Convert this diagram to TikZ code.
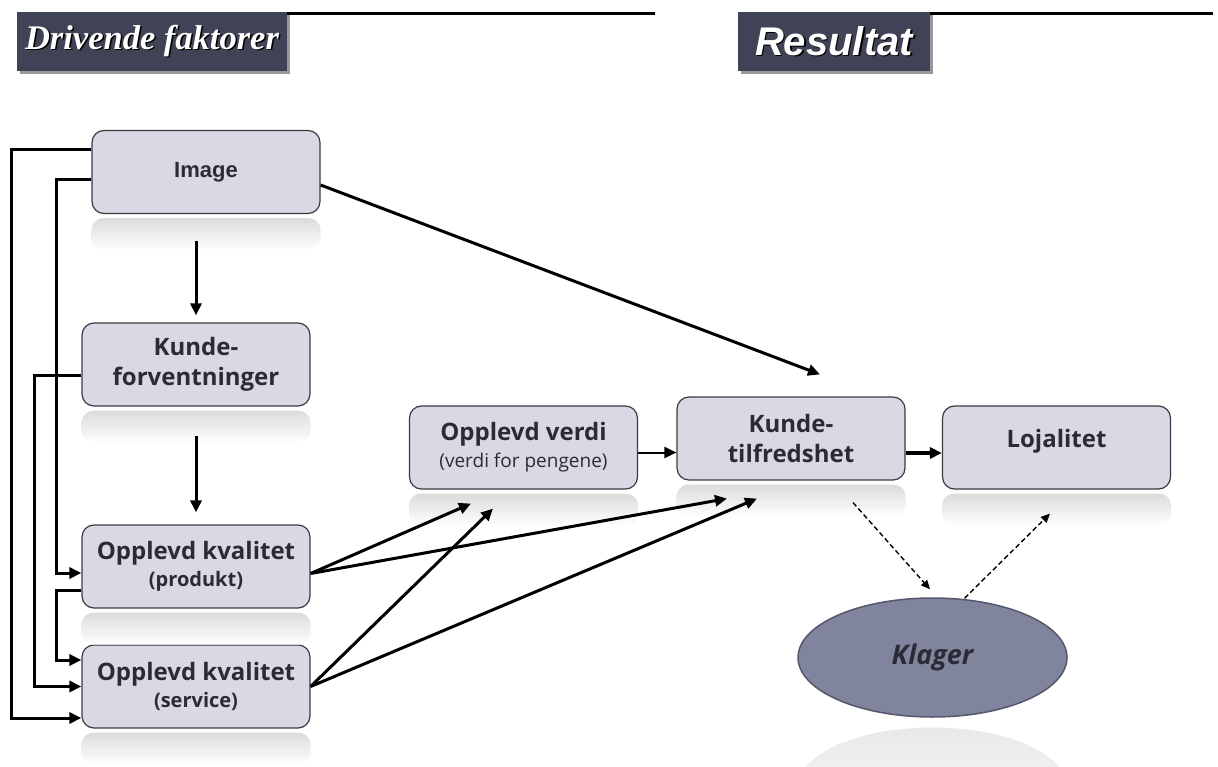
\documentclass[tikz,border=0pt]{standalone}
\usepackage{fontspec}
\setmainfont{Open Sans}
\newfontfamily\titleserif{Liberation Serif}
\newfontfamily\arialfont{Liberation Sans}
\usetikzlibrary{shapes.geometric,arrows.meta,shadows}
\definecolor{boxfill}{HTML}{D9D9E3}
\definecolor{boxline}{HTML}{3A3A44}
\definecolor{boxtext}{HTML}{2B2B36}
\definecolor{titlefill}{HTML}{404256}
\definecolor{ovalfill}{HTML}{80849C}
\definecolor{ovalline}{HTML}{55586C}
\newcommand{\shadowtext}[1]{\rlap{\kern1.5pt\raisebox{-1.5pt}{\color{black}#1}}{\color{white}#1}}
\newcommand{\mirror}[1]{\shade[top color=black!14,bottom color=white,rounded corners=12pt]
  ([yshift=-4pt]#1.south west) rectangle ([yshift=-36pt]#1.south east);}

\begin{document}
\begin{tikzpicture}[x=1pt,y=-1pt]
  \tikzstyle{box}=[rectangle,rounded corners=12pt,draw=boxline,line width=1.2pt,fill=boxfill,
    minimum width=228pt,minimum height=83pt,align=center,text=boxtext,
    font=\fontsize{24}{30}\selectfont\bfseries]
  \tikzstyle{titlebox}=[rectangle,fill=titlefill,minimum height=59pt,
    drop shadow={shadow xshift=3pt,shadow yshift=-3pt,fill=black!40,opacity=1},
    font=\bfseries\itshape]
  \tikzstyle{arr}=[line width=3pt,-{Triangle[length=12pt,width=11pt]}]
  \tikzstyle{dasharr}=[line width=1.4pt,dash pattern=on 5pt off 3pt,-{Triangle[length=9pt,width=8pt]}]
  \useasboundingbox (0,0) rectangle (1218,767);

  % headings
  \node[titlebox,minimum width=270pt] (drivende) at (152,41.5)
    {\titleserif\fontsize{34.5}{40}\selectfont\shadowtext{Drivende faktorer}};
  \node[titlebox,minimum width=192pt] (resultat) at (834,41.5)
    {\arialfont\fontsize{40}{44}\selectfont\shadowtext{Resultat}};
  \draw[line width=3pt] ([yshift=-1.5pt]drivende.north east) -- ++(368,0);
  \draw[line width=3pt] ([yshift=-1.5pt]resultat.north east) -- ++(283,0);

  % boxes
  \node[box] (image) at (206,172) {\arialfont\fontsize{22}{26}\selectfont Image};
  \node[box] (kunde) at (196,364.5) {Kunde-\\forventninger};
  \node[box] (okp) at (196,566.5) {Opplevd kvalitet\\[-3pt]{\fontsize{20}{24}\selectfont (produkt)}};
  \node[box] (oks) at (196,686.5) {Opplevd kvalitet\\[-3pt]{\fontsize{20}{24}\selectfont (service)}};
  \node[box] (verdi) at (523.5,447.5) {Opplevd verdi\\[-3pt]{\fontsize{19}{23}\selectfont\mdseries (verdi for pengene)}};
  \node[box] (tilfreds) at (791,438.5) {Kunde-\\tilfredshet};
  \node[box] (lojal) at (1056.5,447.5) {\raisebox{0pt}[0pt][0pt]{Lojalitet}};
  \node[ellipse,draw=ovalline,line width=1.5pt,fill=ovalfill,minimum width=269pt,minimum height=119pt,
    text=boxtext,font=\fontsize{27}{32}\selectfont\bfseries\itshape] (klager) at (932.5,657.5) {Klager};

  % reflections
  \mirror{image}
  \mirror{kunde}
  \mirror{okp}
  \mirror{oks}
  \mirror{verdi}
  \mirror{tilfreds}
  \mirror{lojal}
  \begin{scope}
    \clip (780,726) rectangle (1080,767);
    \shade[top color=black!9,bottom color=white] (932.5,787) ellipse (134.5 and 59.5);
  \end{scope}

  % arrows
  \draw[arr] ([yshift=-27pt]image.south -| kunde.north) -- ([yshift=7pt]kunde.north);
  \draw[arr] ([yshift=-29pt]kunde.south) -- ([yshift=12pt]okp.north);
  \draw[arr] ([yshift=-13pt]image.east) -- ([xshift=29pt,yshift=22pt]tilfreds.north);
  \draw[arr] ([yshift=22pt]image.west) -- ++(-80,0) |- ([yshift=-31.5pt]oks.west);
  \draw[arr] ([yshift=-8pt]image.west) -- ++(-35,0) |- ([yshift=-6.5pt]okp.west);
  \draw[arr] ([yshift=-10.5pt]kunde.west) -- ++(-47,0) |- (oks.west);
  \draw[arr] ([yshift=-23.5pt]okp.west) -- ++(-25,0) |- ([yshift=26.5pt]oks.west);
  \draw[arr] ([yshift=-7pt]okp.east) -- ([xshift=-52.5pt,yshift=-14pt]verdi.south);
  \draw[arr] ([yshift=-7pt]okp.east) -- ([xshift=-64pt,yshift=-18pt]tilfreds.south);
  \draw[arr] (oks.east) -- ([xshift=-30.5pt,yshift=-19pt]verdi.south);
  \draw[arr] (oks.east) -- ([xshift=-34pt,yshift=-18pt]tilfreds.south);
  \draw[arr,line width=2pt] ([yshift=-5pt]verdi.east) -- ([yshift=-5pt]verdi.east -| tilfreds.west);
  \draw[arr,line width=3.6pt] ([yshift=-14.5pt]tilfreds.east) -- ([yshift=-14.5pt]tilfreds.east -| lojal.west);
  \draw[dasharr] ([xshift=62pt,yshift=-22pt]tilfreds.south) -- ([xshift=-2.5pt,yshift=8pt]klager.north);
  \draw[dasharr] ([xshift=32pt,yshift=-1pt]klager.north) -- ([xshift=-6.5pt,yshift=-24pt]lojal.south);
\end{tikzpicture}
\end{document}
